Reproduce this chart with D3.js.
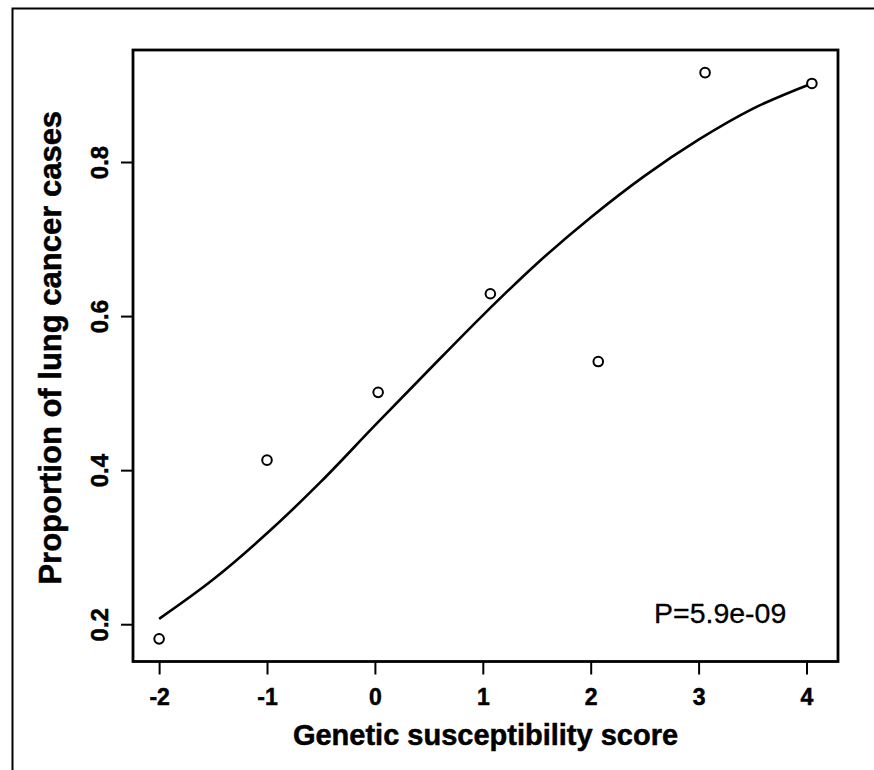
<!DOCTYPE html>
<html>
<head>
<meta charset="utf-8">
<script src="https://cdn.jsdelivr.net/npm/d3@7"></script>
<style>
  html, body { margin: 0; padding: 0; background: #fff; }
  svg { display: block; }
  text { font-family: "Liberation Sans", Arial, Helvetica, sans-serif; fill: #000; }
  .bold { font-weight: bold; stroke: #000; stroke-width: 0.5px; }
</style>
</head>
<body>
<svg id="chart" width="874" height="770"></svg>
<script>
// Observed proportions of lung cancer cases per genetic susceptibility score
const scoreValues = [-2, -1, 0.03, 1.07, 2.07, 3.06, 4.05];
const proportionValues = [0.181, 0.413, 0.501, 0.629, 0.541, 0.916, 0.902];

// Fitted logistic curve, read at regular score steps
const curveScores = [-2, -1.5, -1, -0.5, 0, 0.5, 1, 1.5, 2, 2.5, 3, 3.5, 4.05];
const curveProportions = [0.207, 0.258, 0.318, 0.385, 0.458, 0.530, 0.601, 0.668, 0.728, 0.782, 0.829, 0.869, 0.902];

// Axis ticks and labels
const xTickValues = [-2, -1, 0, 1, 2, 3, 4];
const xTickLabels = ["-2", "-1", "0", "1", "2", "3", "4"];
const yTickValues = [0.2, 0.4, 0.6, 0.8];
const yTickLabels = ["0.2", "0.4", "0.6", "0.8"];

const xTitle = "Genetic susceptibility score";
const yTitle = "Proportion of lung cancer cases";
const pLabel = "P=5.9e-09";

const svg = d3.select("#chart");

// Plot region
const plot = { left: 133, right: 838, top: 50, bottom: 661.5 };

// Domains padded by 4% on each side
function padded(values) {
  const [lo, hi] = d3.extent(values);
  const pad = (hi - lo) * 0.04;
  return [lo - pad, hi + pad];
}

const x = d3.scaleLinear().domain(padded(scoreValues)).range([plot.left, plot.right]);
const y = d3.scaleLinear().domain(padded(proportionValues)).range([plot.bottom, plot.top]);

// Outer figure frame
svg.append("path")
  .attr("d", `M12.5,770 L12.5,8.5 L874,8.5`)
  .attr("fill", "none")
  .attr("stroke", "#000")
  .attr("stroke-width", 2);

// Bottom axis
const xAxis = d3.axisBottom(x)
  .tickValues(xTickValues)
  .tickFormat((d, i) => xTickLabels[i])
  .tickSizeInner(13)
  .tickSizeOuter(0)
  .tickPadding(0);

const gx = svg.append("g")
  .attr("transform", `translate(0,${plot.bottom})`)
  .call(xAxis);
gx.select(".domain").remove();
gx.selectAll(".tick line").attr("stroke", "#000").attr("stroke-width", 2);
gx.selectAll(".tick text")
  .attr("class", "bold")
  .attr("y", 43)
  .attr("dy", null)
  .attr("font-size", 23)
  .attr("font-family", "Liberation Sans, Arial, sans-serif");

// Left axis with labels rotated parallel to the axis
const yAxis = d3.axisLeft(y)
  .tickValues(yTickValues)
  .tickFormat((d, i) => yTickLabels[i])
  .tickSizeInner(12)
  .tickSizeOuter(0);

const gy = svg.append("g")
  .attr("transform", `translate(${plot.left},0)`)
  .call(yAxis);
gy.select(".domain").remove();
gy.selectAll(".tick line").attr("stroke", "#000").attr("stroke-width", 2);
gy.selectAll(".tick text")
  .attr("class", "bold")
  .attr("x", null)
  .attr("dy", null)
  .attr("text-anchor", "middle")
  .attr("transform", "translate(-25,0) rotate(-90)")
  .attr("font-size", 24)
  .attr("font-family", "Liberation Sans, Arial, sans-serif");

// Plot box
svg.append("rect")
  .attr("x", plot.left).attr("y", plot.top)
  .attr("width", plot.right - plot.left)
  .attr("height", plot.bottom - plot.top)
  .attr("fill", "none")
  .attr("stroke", "#000")
  .attr("stroke-width", 2.8);

// Fitted curve
const curveData = curveScores.map((s, i) => ({ s, p: curveProportions[i] }));
svg.append("path")
  .datum(curveData)
  .attr("d", d3.line().x(d => x(d.s)).y(d => y(d.p)).curve(d3.curveMonotoneX))
  .attr("fill", "none")
  .attr("stroke", "#000")
  .attr("stroke-width", 2.6);

// Observed points
const pointData = scoreValues.map((s, i) => ({ s, p: proportionValues[i] }));
svg.append("g")
  .selectAll("circle")
  .data(pointData)
  .join("circle")
  .attr("cx", d => x(d.s))
  .attr("cy", d => y(d.p))
  .attr("r", 4.8)
  .attr("fill", "#fff")
  .attr("stroke", "#000")
  .attr("stroke-width", 2);

// P-value annotation
svg.append("text")
  .attr("x", 654)
  .attr("y", 623)
  .attr("font-size", 28.5)
  .attr("stroke", "#000")
  .attr("stroke-width", 0.3)
  .text(pLabel);

// Axis titles
svg.append("text")
  .attr("class", "bold")
  .attr("x", (plot.left + plot.right) / 2)
  .attr("y", 745)
  .attr("text-anchor", "middle")
  .attr("font-size", 29)
  .text(xTitle);

svg.append("text")
  .attr("class", "bold")
  .attr("transform", `translate(61,${(plot.top + plot.bottom) / 2 - 8}) rotate(-90)`)
  .attr("text-anchor", "middle")
  .attr("font-size", 31)
  .text(yTitle);
</script>
</body>
</html>
